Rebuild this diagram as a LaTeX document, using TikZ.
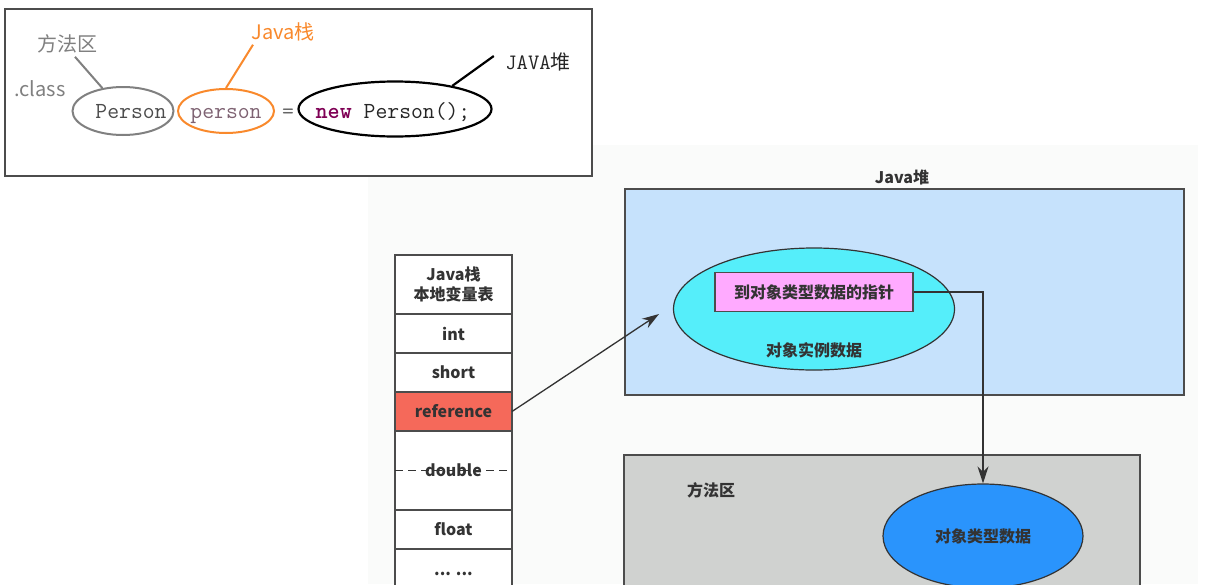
\documentclass[tikz,border=0pt]{standalone}
\usepackage{fontspec}
\setmainfont{Noto Sans CJK SC}
\usetikzlibrary{shapes.geometric,positioning,arrows.meta}
\definecolor{heapblue}{HTML}{C6E2FC}
\definecolor{instcyan}{HTML}{55EEFA}
\definecolor{ptrpink}{HTML}{FFAAFF}
\definecolor{methgray}{HTML}{D0D2D0}
\definecolor{typeblue}{HTML}{2A94FC}
\definecolor{refred}{HTML}{F5695A}
\definecolor{stackorange}{HTML}{F9892C}
\definecolor{kwpurple}{HTML}{7F0055}
\definecolor{varmauve}{HTML}{7E6272}
\definecolor{faint}{HTML}{FAFBFA}

\begin{document}
\begin{tikzpicture}[x=1pt, y=-1pt,
    every node/.style={font=\fontsize{16}{20}\selectfont\bfseries, text=black!80},
    cell/.style={draw=black!70, line width=1.2pt, fill=white, minimum width=117pt, minimum height=39pt, inner sep=0pt, outer sep=0pt},
    region/.style={draw=black!70, line width=1.6pt, inner sep=0pt},
    oval/.style={ellipse, draw=black!80, line width=1.2pt, inner sep=0pt},
    codetext/.style={font=\ttfamily\fontsize{23}{26}\selectfont, anchor=base},
    note/.style={font=\fontsize{20}{24}\selectfont},
    link/.style={draw=black!80, line width=1.3pt, -{Stealth[length=17pt, width=11pt]}}]
  \useasboundingbox[fill=white] (0,0) rectangle (1222,584);
  \fill[faint] (368,145) rectangle (1198,584);

  \node[region, fill=white, minimum width=587pt, minimum height=167pt] (codebox) at (298.5,92.5) {};
  \node[oval, draw=black!50, line width=2pt, minimum width=101pt, minimum height=48pt] (clsname) at (123,111) {};
  \node[oval, draw=stackorange, line width=2pt, minimum width=96pt, minimum height=44pt] (varname) at (226,111) {};
  \node[oval, draw=black, line width=2.2pt, minimum width=193pt, minimum height=55pt] (newobj) at (395,109) {};
  \node[codetext, text=black!70] (clstext) at (131,118) {Person};
  \node[codetext, text=varmauve] (vartext) at (226,118) {person};
  \node[codetext, text=black!60] (eqtext) at (288,118) {=};
  \node[codetext, text=black!85] (newtext) at (393,118) {\textbf{\textcolor{kwpurple}{new}} Person();};
  \node[note, text=black!50] (lblmethod) at (67,44) {方法区};
  \node[note, text=black!50] (lblclass) at (40,89) {.class};
  \node[note, text=stackorange] (lblstack) at (283,32) {Java栈};
  \node[note, text=black!85] (lblheap) at (538,62) {{\ttfamily\fontsize{22}{24}\selectfont JAVA}堆};
  \draw[black!50, line width=2pt] ([xshift=8pt]lblmethod.south) -- (clsname.132);
  \draw[stackorange, line width=2pt] ([xshift=-30pt]lblstack.south) -- (varname.north);
  \draw[black, line width=2.2pt] ([xshift=-8pt,yshift=6pt]lblheap.west) -- (newobj.22);

  \node[cell, minimum height=59pt, align=center] (header) at (453.5,284.5) {Java栈\\本地变量表};
  \node[cell, below=0pt of header] (intcell) {int};
  \node[cell, below=0pt of intcell] (shortcell) {short};
  \node[cell, fill=refred, below=0pt of shortcell] (refcell) {reference};
  \node[cell, minimum height=79pt, below=0pt of refcell] (dblcell) {};
  \node[cell, below=0pt of dblcell] (floatcell) {float};
  \node[cell, minimum height=50pt, below=0pt of floatcell] (morecell) {... ...};
  \node (dbltext) at (dblcell.center) {double};
  \draw[black!80, line width=1.4pt, dash pattern=on 8pt off 5pt] (dblcell.west) -- (dblcell.east);

  \node[region, fill=heapblue, minimum width=559pt, minimum height=206pt] (heap) at (904.5,292) {};
  \node (heaplbl) at (902,177) {Java堆};
  \node[oval, fill=instcyan, minimum width=281pt, minimum height=122pt] (instance) at (814,309) {};
  \node[region, line width=1.2pt, fill=ptrpink, minimum width=198pt, minimum height=39pt] (pointer) at (814,292) {到对象类型数据的指针};
  \node (insttext) at (814,350) {对象实例数据};

  \node[region, fill=methgray, minimum width=516pt, minimum height=165pt] (method) at (882,537.5) {};
  \node (methlbl) at (711,490) {方法区};
  \node[oval, fill=typeblue, minimum width=200pt, minimum height=104pt] (typedata) at (983,536) {对象类型数据};

  \coordinate (reftip) at (659,314);
  \draw[link] (refcell.east) -- (reftip);
  \draw[link] (pointer.east) -| (typedata.north);
\end{tikzpicture}
\end{document}
